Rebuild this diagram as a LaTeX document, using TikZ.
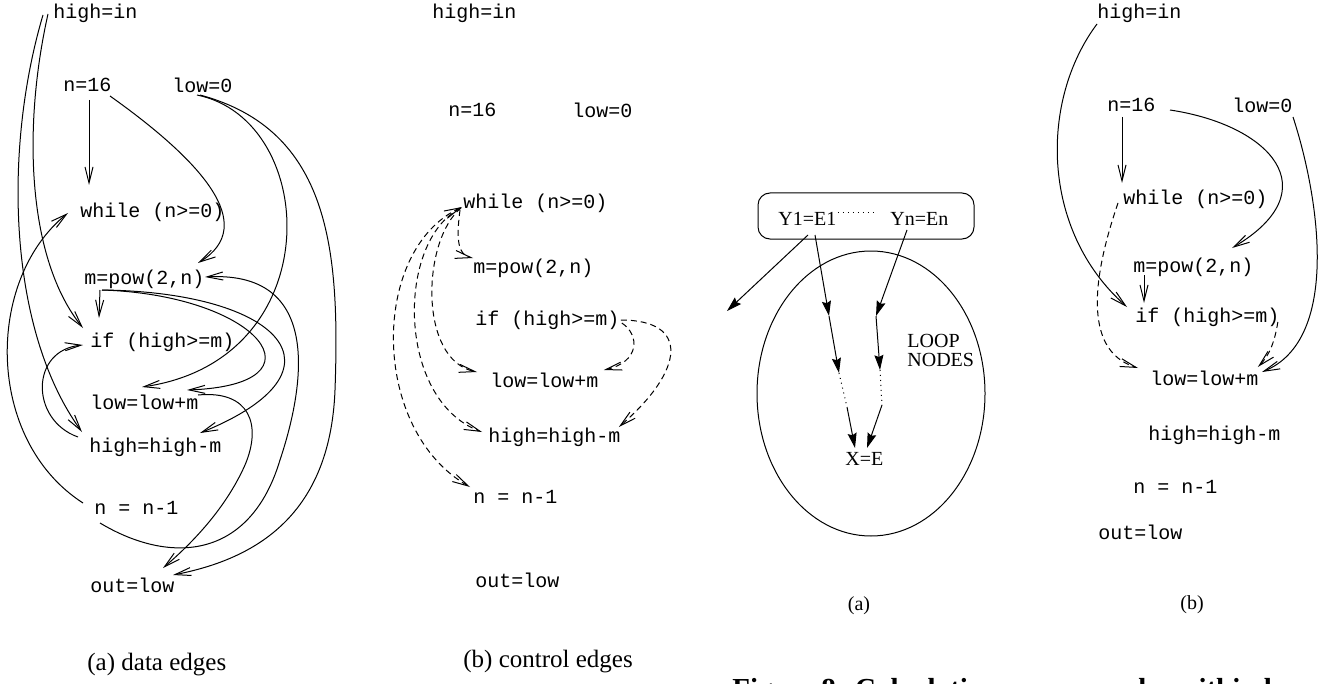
\documentclass[tikz,border=0pt]{standalone}
\usepackage{fontspec}
\setmainfont{Liberation Serif}
\newfontfamily\codefont{Liberation Mono}
\usetikzlibrary{arrows.meta,calc,shapes.geometric}
\begin{document}
\begin{tikzpicture}[x=0.5pt,y=-0.5pt,
  code/.style={font=\codefont\fontsize{10}{12}\selectfont,inner sep=0pt,anchor=west},
  serif/.style={font=\fontsize{10}{12}\selectfont,inner sep=0pt},
  captext/.style={font=\fontsize{12.5}{15}\selectfont,inner sep=0pt,anchor=west},
  bigcap/.style={font=\bfseries\fontsize{14.5}{17}\selectfont,inner sep=0pt,anchor=base west},
  barb/.tip={Straight Barb[length=8pt,width=4pt]},
  data/.style={line width=0.5pt,-barb},
  ctrl/.style={data,dash pattern=on 3pt off 2pt},
  ctrlboth/.style={ctrl,barb-barb},
  fig/.style={line width=0.5pt,-{Stealth[length=7.5pt,width=4.5pt,inset=1pt]}},
  thinline/.style={line width=0.5pt},
]
\useasboundingbox (0,0) rectangle (1342,684);

% ---------- (a) data edges ----------
\node[code] (ahin) at (53,13) {high=in};
\node[code] (an16) at (63,85) {n=16};
\node[code] (alow0) at (172,85) {low=0};
\node[code] (awhile) at (80,212) {while (n>=0)};
\node[code] (am) at (84,279) {m=pow(2,n)};
\node[code] (aif) at (90,342) {if (high>=m)};
\node[code] (alow) at (90,402) {low=low+m};
\node[code] (ahigh) at (89,447) {high=high-m};
\node[code] (an1) at (94,508) {n = n-1};
\node[code] (aout) at (90,585) {out=low};
\node[captext] (acap) at (87,665) {(a) data edges};

\draw[data] ($(ahin.west)+(-5,1)$) .. controls (22,130) and (28,260) .. ($(aif.west)+(-7,-14)$);
\draw[data] ($(ahin.west)+(-10,2)$) .. controls (3,150) and (8,330) .. ($(ahigh.west)+(-7,-15)$);
\draw[data] ($(an16.west)+(26,15)$) -- ($(awhile.west)+(9,-27)$);
\draw[data] ($(an16.west)+(47,11)$) .. controls (200,160) and (260,225) .. ($(am.west)+(114,-16)$);
\draw[data] ($(am.west)+(16,11)$) -- ($(aif.west)+(9,-24)$);
\draw[data] ($(am.west)+(18,11)$) .. controls (260,295) and (330,385) .. ($(alow.west)+(97,-12)$);
\draw[data] ($(am.west)+(18,11)$) .. controls (280,292) and (355,370) .. ($(ahigh.west)+(111,-14)$);
\draw[data] ($(alow0.west)+(25,10)$) .. controls (320,120) and (330,360) .. ($(alow.west)+(52,-15)$);
\draw[data] ($(alow0.west)+(28,10)$) .. controls (330,130) and (340,250) .. (335,390) .. controls (330,520) and (250,560) .. ($(aout.west)+(83,-10)$);
\draw[data] ($(alow.west)+(108,-7)$) .. controls (250,390) and (262,425) .. (245,465) .. controls (225,510) and (190,545) .. ($(aout.west)+(73,-17)$);
\draw[data] ($(an1.west)+(6,15)$) .. controls (170,565) and (250,560) .. (280,460) .. controls (300,400) and (330,270) .. ($(am.west)+(121,-2)$);
\draw[data] ($(an1.west)+(-11,-5)$) .. controls (-15,440) and (-15,280) .. ($(awhile.west)+(-12,1)$);
\draw[data] ($(ahigh.west)+(-11,-10)$) .. controls (30,420) and (30,350) .. ($(aif.west)+(-7,3)$);

% ---------- (b) control edges ----------
\node[code] (bhin) at (432,13) {high=in};
\node[code] (bn16) at (448,110) {n=16};
\node[code] (blow0) at (572,110) {low=0};
\node[code] (bwhile) at (463,203) {while (n>=0)};
\node[code] (bm) at (473,268) {m=pow(2,n)};
\node[code] (bif) at (475,320) {if (high>=m)};
\node[code] (blow) at (490,380) {low=low+m};
\node[code] (bhigh) at (488,437) {high=high-m};
\node[code] (bn1) at (473,497) {n = n-1};
\node[code] (bout) at (475,580) {out=low};
\node[captext] (bcap) at (463,662) {(b) control edges};

\draw[ctrl] ($(bwhile.west)+(-3,7)$) .. controls (456,240) and (458,255) .. ($(bm.west)+(0,-10)$);
\draw[ctrl] ($(bwhile.west)+(-2,5)$) .. controls (422,240) and (418,360) .. ($(blow.west)+(-13,-8)$);
\draw[ctrl] ($(bwhile.west)+(-2,5)$) .. controls (396,240) and (396,400) .. ($(bhigh.west)+(-6,-5)$);
\draw[ctrlboth] ($(bwhile.west)+(-1,4)$) .. controls (370,250) and (370,430) .. ($(bn1.west)+(-3,-10)$);
\draw[ctrl] ($(bif.east)+(2,3)$) .. controls (640,335) and (640,362) .. ($(blow.east)+(5,-10)$);
\draw[ctrl] ($(bif.east)+(1,0)$) .. controls (690,320) and (685,370) .. ($(bhigh.east)+(-2,-10)$);

% ---------- figure (a): loop nodes ----------
\node[draw,thinline,rounded corners=6pt,minimum width=108pt,minimum height=23pt,inner sep=0pt] (box) at (866,216) {};
\node[serif,anchor=west] (y1) at (778,219) {Y1=E1};
\node[serif,anchor=west] (yn) at (890,219) {Yn=En};
\draw[thinline,dotted] ($(y1.east)+(1,-6)$) -- ($(yn.west)+(-15,-6)$);
\node[draw,thinline,ellipse,minimum width=114pt,minimum height=142.5pt,inner sep=0pt] (loop) at (871,393.5) {};
\node[serif,anchor=north west,align=left,font=\fontsize{10}{9.5}\selectfont] (ln) at (907,334) {LOOP\\NODES};
\node[serif,anchor=west] (xe) at (845,459) {X=E};
\coordinate (farout) at (727,311);
\coordinate (p1) at (829,316);
\coordinate (p2) at (839,373);
\coordinate (p3) at (847,407);
\coordinate (q1) at (876,316);
\coordinate (q2) at (880,370);
\coordinate (q3) at (882,405);
\draw[fig] ($(y1.west)+(30,16)$) -- (farout);
\draw[fig] ($(y1.west)+(37,16)$) -- (p1);
\draw[fig] (p1) -- (p2);
\draw[thinline,dotted] (p2) -- (p3);
\draw[fig] (p3) -- ($(xe.west)+(10,-11)$);
\draw[fig] ($(yn.west)+(17,11)$) -- (q1);
\draw[fig] (q1) -- (q2);
\draw[thinline,dotted] (q2) -- (q3);
\draw[fig] (q3) -- ($(xe.west)+(22,-11)$);
\node[serif] (acap2) at (859,606) {(a)};

% ---------- (b) right panel ----------
\node[code] (chin) at (1097,13) {high=in};
\node[code] (cn16) at (1107,105) {n=16};
\node[code] (clow0) at (1232,105) {low=0};
\node[code] (cwhile) at (1123,199) {while (n>=0)};
\node[code] (cm) at (1133,267) {m=pow(2,n)};
\node[code] (cif) at (1135,317) {if (high>=m)};
\node[code] (clow) at (1150,378) {low=low+m};
\node[code] (chigh) at (1148,435) {high=high-m};
\node[code] (cn1) at (1133,487) {n = n-1};
\node[code] (cout) at (1098,532) {out=low};
\node[serif] (ccap) at (1192,605) {(b)};

\draw[data] ($(chin.west)+(0,11)$) .. controls (1040,100) and (1040,230) .. ($(cif.west)+(-8,-10)$);
\draw[data] ($(cn16.west)+(15,12)$) -- ($(cwhile.west)+(-1,-16)$);
\draw[data] ($(cn16.west)+(63,5)$) .. controls (1270,125) and (1330,190) .. ($(cm.west)+(99,-19)$);
\draw[data] ($(cm.west)+(11,8)$) -- ($(cif.west)+(9,-14)$);
\draw[data] ($(clow0.west)+(61,12)$) .. controls (1320,200) and (1340,340) .. ($(clow.west)+(112,-6)$);
\draw[ctrl] ($(cwhile.west)+(-5,4)$) .. controls (1095,270) and (1080,350) .. ($(clow.west)+(-12,-10)$);
\draw[ctrl] ($(cif.east)+(-2,5)$) .. controls (1275,340) and (1270,355) .. ($(clow.east)+(-1,-11)$);

% ---------- clipped caption ----------
\node[bigcap] (fig8a) at (732,698) {Figure 8: Calculation};
\node[bigcap] (fig8b) at (1099,698) {nodes within loops};
\end{tikzpicture}
\end{document}
